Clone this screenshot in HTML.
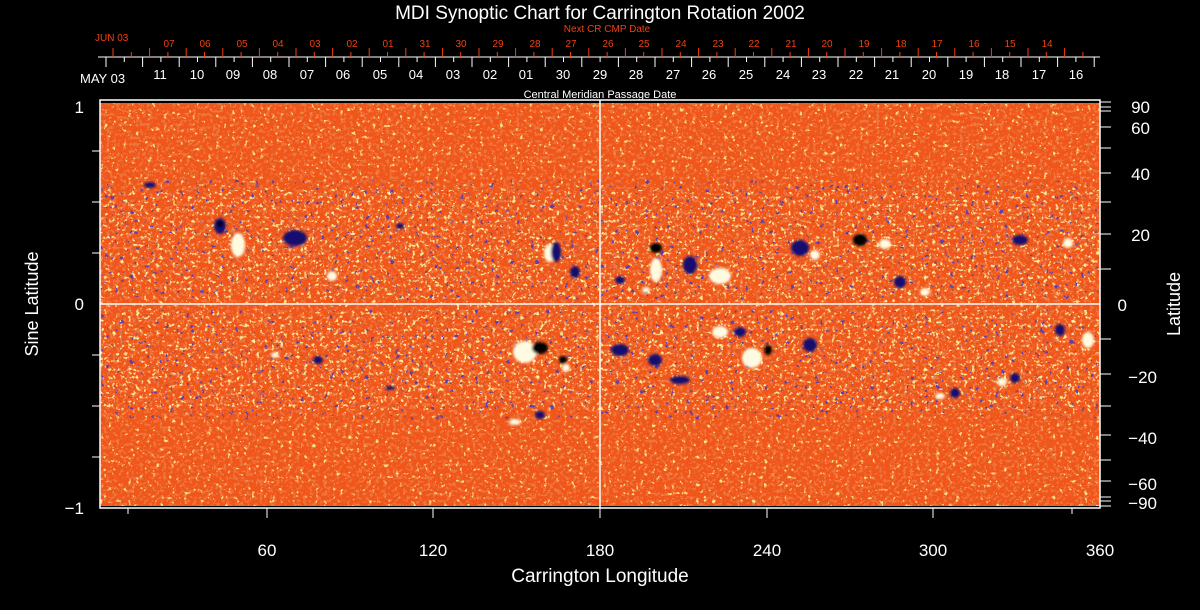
<!DOCTYPE html>
<html><head><meta charset="utf-8"><style>
html,body{margin:0;padding:0;background:#000;width:1200px;height:610px;overflow:hidden}
svg{display:block}
text{font-family:"Liberation Sans",sans-serif}
</style></head><body>
<svg width="1200" height="610" viewBox="0 0 1200 610" xmlns="http://www.w3.org/2000/svg">
<defs>
<filter id="ys" x="0" y="0" width="100%" height="100%"><feTurbulence type="fractalNoise" baseFrequency="0.25" numOctaves="3" seed="3"/><feColorMatrix type="matrix" values="0 0 0 0 1  0 0 0 0 0.75  0 0 0 0 0.25  12 0 0 0 -8.0"/></filter>
<filter id="ys2" x="0" y="0" width="100%" height="100%"><feTurbulence type="fractalNoise" baseFrequency="0.25" numOctaves="3" seed="5"/><feColorMatrix type="matrix" values="0 0 0 0 1  0 0 0 0 0.85  0 0 0 0 0.35  12 0 0 0 -7.8"/></filter>
<filter id="rs" x="0" y="0" width="100%" height="100%"><feTurbulence type="fractalNoise" baseFrequency="0.3" numOctaves="2" seed="11"/><feColorMatrix type="matrix" values="0 0 0 0 0.85  0 0 0 0 0.18  0 0 0 0 0.05  8 0 0 0 -4.2"/></filter>
<filter id="bs" x="0" y="0" width="100%" height="100%"><feTurbulence type="fractalNoise" baseFrequency="0.2" numOctaves="3" seed="7"/><feColorMatrix type="matrix" values="0 0 0 0 0.1  0 0 0 0 0.05  0 0 0 0 0.45  14 0 0 0 -9.6"/></filter>
<filter id="blur"><feGaussianBlur stdDeviation="1.2"/></filter>
</defs>
<rect x="100" y="103" width="1000" height="403" fill="#f0561a"/>
<rect x="100" y="103" width="1000" height="403" filter="url(#rs)"/>
<rect x="100" y="103" width="1000" height="403" filter="url(#ys)"/>
<rect x="100" y="190" width="1000" height="110" filter="url(#ys2)"/>
<rect x="100" y="310" width="1000" height="100" filter="url(#ys2)"/>
<rect x="100" y="180" width="1000" height="120" filter="url(#bs)"/>
<rect x="100" y="310" width="1000" height="110" filter="url(#bs)"/>
<g filter="url(#blur)">
<g fill="#fffbe0">
<ellipse cx="238" cy="245" rx="7" ry="12"/><ellipse cx="332" cy="276" rx="5" ry="5"/>
<ellipse cx="550" cy="253" rx="6" ry="9"/><ellipse cx="656" cy="270" rx="6" ry="12"/>
<ellipse cx="720" cy="276" rx="11" ry="8"/><ellipse cx="815" cy="255" rx="5" ry="5"/>
<ellipse cx="885" cy="244" rx="6" ry="5"/><ellipse cx="925" cy="292" rx="5" ry="4"/>
<ellipse cx="1068" cy="243" rx="5" ry="5"/><ellipse cx="275" cy="355" rx="4" ry="3"/>
<ellipse cx="525" cy="352" rx="12" ry="11"/><ellipse cx="566" cy="368" rx="4" ry="4"/>
<ellipse cx="720" cy="332" rx="8" ry="6"/><ellipse cx="752" cy="358" rx="10" ry="10"/>
<ellipse cx="515" cy="422" rx="6" ry="3"/><ellipse cx="940" cy="396" rx="5" ry="3"/>
<ellipse cx="1002" cy="382" rx="5" ry="4"/><ellipse cx="1088" cy="340" rx="6" ry="8"/>
<ellipse cx="646" cy="290" rx="4" ry="3"/>
</g>
<g fill="#140c70">
<ellipse cx="220" cy="226" rx="6" ry="8"/><ellipse cx="295" cy="238" rx="12" ry="8"/>
<ellipse cx="400" cy="226" rx="4" ry="3"/><ellipse cx="556" cy="252" rx="5" ry="10"/>
<ellipse cx="575" cy="272" rx="5" ry="6"/><ellipse cx="690" cy="265" rx="7" ry="9"/>
<ellipse cx="800" cy="248" rx="9" ry="8"/><ellipse cx="900" cy="282" rx="6" ry="6"/>
<ellipse cx="1020" cy="240" rx="8" ry="5"/><ellipse cx="318" cy="360" rx="5" ry="4"/>
<ellipse cx="620" cy="350" rx="9" ry="6"/><ellipse cx="655" cy="360" rx="7" ry="6"/>
<ellipse cx="740" cy="332" rx="6" ry="5"/><ellipse cx="810" cy="345" rx="7" ry="7"/>
<ellipse cx="680" cy="380" rx="10" ry="4"/><ellipse cx="540" cy="415" rx="5" ry="4"/>
<ellipse cx="955" cy="393" rx="5" ry="5"/><ellipse cx="1015" cy="378" rx="5" ry="5"/>
<ellipse cx="1060" cy="330" rx="5" ry="6"/><ellipse cx="390" cy="388" rx="5" ry="2"/>
<ellipse cx="150" cy="185" rx="6" ry="3"/><ellipse cx="620" cy="280" rx="5" ry="4"/>
</g>
<g fill="#000">
<ellipse cx="656" cy="248" rx="6" ry="5"/><ellipse cx="860" cy="240" rx="7" ry="6"/>
<ellipse cx="540" cy="348" rx="8" ry="6"/><ellipse cx="563" cy="360" rx="4" ry="4"/>
<ellipse cx="768" cy="350" rx="4" ry="5"/><ellipse cx="220" cy="224" rx="3" ry="3"/>
</g>
</g>
<g stroke="#fff" stroke-width="1.5" fill="none">
<rect x="100" y="100" width="1000" height="408"/>
<line x1="600" y1="100" x2="600" y2="508"/>
<line x1="100" y1="304" x2="1100" y2="304"/>
</g>
<g stroke="#fff" stroke-width="1">
<line x1="92" y1="151" x2="100" y2="151"/><line x1="92" y1="202" x2="100" y2="202"/>
<line x1="92" y1="253" x2="100" y2="253"/><line x1="92" y1="355" x2="100" y2="355"/>
<line x1="92" y1="406" x2="100" y2="406"/><line x1="92" y1="457" x2="100" y2="457"/>
<line x1="1100" y1="102" x2="1111" y2="102"/><line x1="1100" y1="107" x2="1111" y2="107"/>
<line x1="1100" y1="111" x2="1111" y2="111"/><line x1="1100" y1="127" x2="1111" y2="127"/>
<line x1="1100" y1="148" x2="1111" y2="148"/><line x1="1100" y1="173" x2="1111" y2="173"/>
<line x1="1100" y1="202" x2="1111" y2="202"/><line x1="1100" y1="234" x2="1111" y2="234"/>
<line x1="1100" y1="269" x2="1111" y2="269"/><line x1="1100" y1="339" x2="1111" y2="339"/>
<line x1="1100" y1="374" x2="1111" y2="374"/><line x1="1100" y1="406" x2="1111" y2="406"/>
<line x1="1100" y1="435" x2="1111" y2="435"/><line x1="1100" y1="460" x2="1111" y2="460"/>
<line x1="1100" y1="481" x2="1111" y2="481"/><line x1="1100" y1="497" x2="1111" y2="497"/>
<line x1="1100" y1="501" x2="1111" y2="501"/><line x1="1100" y1="506" x2="1111" y2="506"/>
<line x1="267" y1="508" x2="267" y2="518"/><line x1="433" y1="508" x2="433" y2="518"/>
<line x1="600" y1="508" x2="600" y2="518"/><line x1="767" y1="508" x2="767" y2="518"/>
<line x1="933" y1="508" x2="933" y2="518"/>
<line x1="1072" y1="508" x2="1072" y2="514"/><line x1="128" y1="508" x2="128" y2="514"/>
<line x1="98" y1="57" x2="1100" y2="57"/>
</g>
<g id="wt" stroke="#fff" stroke-width="1"></g>
<g id="rt" stroke="#f04010" stroke-width="1"></g>
<text x="600" y="19" font-size="19" fill="#fff" text-anchor="middle">MDI Synoptic Chart for Carrington Rotation 2002</text>
<text x="607" y="32" font-size="10" fill="#f04010" text-anchor="middle">Next CR CMP Date</text>
<text x="95" y="41" font-size="10" fill="#f04010">JUN 03</text>
<g font-size="10" fill="#f04010" text-anchor="middle">
<text x="169" y="47">07</text><text x="205" y="47">06</text><text x="242" y="47">05</text><text x="278" y="47">04</text><text x="315" y="47">03</text><text x="352" y="47">02</text><text x="388" y="47">01</text><text x="425" y="47">31</text><text x="461" y="47">30</text><text x="498" y="47">29</text><text x="535" y="47">28</text><text x="571" y="47">27</text><text x="608" y="47">26</text><text x="644" y="47">25</text><text x="681" y="47">24</text><text x="718" y="47">23</text><text x="754" y="47">22</text><text x="791" y="47">21</text><text x="827" y="47">20</text><text x="864" y="47">19</text><text x="901" y="47">18</text><text x="937" y="47">17</text><text x="974" y="47">16</text><text x="1010" y="47">15</text><text x="1047" y="47">14</text>
</g>
<text x="80" y="83" font-size="13" fill="#fff">MAY 03</text>
<g font-size="13" fill="#fff" text-anchor="middle">
<text x="160" y="79">11</text><text x="197" y="79">10</text><text x="233" y="79">09</text><text x="270" y="79">08</text><text x="307" y="79">07</text><text x="343" y="79">06</text><text x="380" y="79">05</text><text x="416" y="79">04</text><text x="453" y="79">03</text><text x="490" y="79">02</text><text x="526" y="79">01</text><text x="563" y="79">30</text><text x="600" y="79">29</text><text x="636" y="79">28</text><text x="673" y="79">27</text><text x="709" y="79">26</text><text x="746" y="79">25</text><text x="783" y="79">24</text><text x="819" y="79">23</text><text x="856" y="79">22</text><text x="892" y="79">21</text><text x="929" y="79">20</text><text x="966" y="79">19</text><text x="1002" y="79">18</text><text x="1039" y="79">17</text><text x="1076" y="79">16</text>
</g>
<text x="600" y="98" font-size="11" fill="#fff" text-anchor="middle">Central Meridian Passage Date</text>
<g font-size="17" fill="#fff" text-anchor="end">
<text x="84" y="113">1</text><text x="84" y="310">0</text><text x="84" y="514">−1</text>
</g>
<text transform="translate(38,304) rotate(-90)" font-size="18" fill="#fff" text-anchor="middle">Sine Latitude</text>
<g font-size="17" fill="#fff" text-anchor="middle">
<text x="267" y="556">60</text><text x="433" y="556">120</text><text x="600" y="556">180</text><text x="767" y="556">240</text><text x="933" y="556">300</text><text x="1100" y="556">360</text>
</g>
<text x="600" y="582" font-size="19" fill="#fff" text-anchor="middle">Carrington Longitude</text>
<g font-size="17" fill="#fff" text-anchor="end">
<text x="1150" y="113">90</text><text x="1150" y="134">60</text><text x="1150" y="180">40</text><text x="1150" y="241">20</text><text x="1127" y="311">0</text><text x="1157" y="383">−20</text><text x="1157" y="444">−40</text><text x="1157" y="490">−60</text><text x="1157" y="509">−90</text>
</g>
<text transform="translate(1180,304) rotate(-90)" font-size="18" fill="#fff" text-anchor="middle">Latitude</text>
<script>
(function(){
var ns="http://www.w3.org/2000/svg";
var w=document.getElementById("wt"),r=document.getElementById("rt");
function L(g,x1,y1,x2,y2){var l=document.createElementNS(ns,"line");l.setAttribute("x1",x1);l.setAttribute("y1",y1);l.setAttribute("x2",x2);l.setAttribute("y2",y2);g.appendChild(l);}
for(var k=0;k<28;k++){var x=106+36.6*k;if(x<=1101){L(w,x,57,x,67);}var m=x+18.3;if(m<1100)L(w,m,57,m,62);
var xr=113+36.6*k;if(xr<=1100)L(r,xr,48,xr,57);var mr=xr+18.3;if(mr<1100)L(r,mr,52,mr,57);}
})();
</script>
</svg>
</body></html>
